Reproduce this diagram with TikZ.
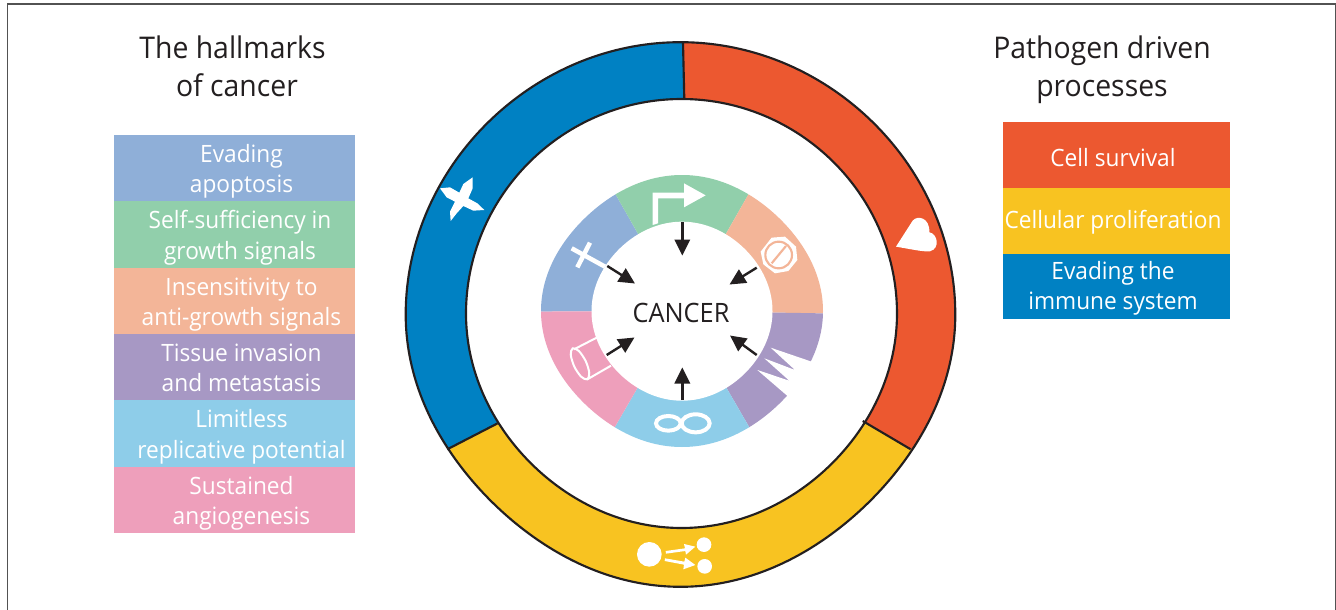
\documentclass[tikz,border=0pt]{standalone}
\usepackage{fontspec}
\setmainfont{Open Sans}[FakeStretch=0.95]
\usetikzlibrary{arrows.meta}
\definecolor{hblue}{HTML}{8FAFD8}
\definecolor{hgreen}{HTML}{91CFAB}
\definecolor{hpeach}{HTML}{F3B598}
\definecolor{hpurple}{HTML}{A798C4}
\definecolor{hsky}{HTML}{8ECDE9}
\definecolor{hpink}{HTML}{EE9FBB}
\definecolor{rblue}{HTML}{0081C3}
\definecolor{rred}{HTML}{EC5830}
\definecolor{ryellow}{HTML}{F8C321}
\definecolor{ink}{HTML}{231F20}
\tikzset{
 legendtext/.style={inner sep=0pt,text=white,align=center,font=\fontsize{17.9}{22.9}\selectfont},
 heading/.style={inner sep=0pt,align=center,text=ink,font=\fontsize{22.4}{28.5}\selectfont},
 ringline/.style={draw=ink,line width=1.6pt},
 pointer/.style={-{Triangle[length=12pt,width=11.5pt]},draw=ink,line width=1.8pt},
 whiteline/.style={draw=white,line cap=butt},
}
% closed outline: centre, x radius, y radius, flattening below, flattening above
\newcommand{\blob}[6]{plot[domain=0:358,samples=180,variable=\t,smooth] ({#1+#3*cos(\t)*(1-(sin(\t)>0?#5:#6)*pow(sin(2*\t),2))},{#2+#4*sin(\t)*(1-(sin(\t)>0?#5:#6)*pow(sin(2*\t),2))}) -- cycle}
\newcommand{\outerpath}{\blob{680.5}{314.5}{274.8}{272.3}{0.028}{0.006}}
\newcommand{\holepath}{\blob{681.5}{313.5}{215.5}{214.5}{0.012}{0.002}}
\newcommand{\innerouter}{\blob{682}{311}{141}{136}{0.03}{0.03}}
\newcommand{\innerhole}{\blob{682}{311.2}{90.5}{89.5}{0.018}{0.018}}
\begin{document}
\begin{tikzpicture}[x=0.75pt,y=-0.75pt]
\useasboundingbox (0,0) rectangle (1336,610);
\fill[white] (0,0) rectangle (1336,610);
\coordinate (bl) at (7.5,610); \coordinate (tl) at (7.5,4); \coordinate (tr) at (1335.5,4); \coordinate (br) at (1335.5,610);
\draw[draw=black!68,line width=1.1pt] (bl) -- (tl) -- (tr) -- (br);
% outer ring
\begin{scope}
\clip \outerpath;
\fill[rblue] (684,0) -- (685,200) -- (600,370.5) -- (340,504.6) -- (340,0) -- cycle;
\fill[rred] (683,0) -- (1000,0) -- (1000,502) -- (780,372) -- (684,200) -- cycle;
\fill[ryellow] (600,370.5) -- (780,372) -- (1000,502) -- (1000,610) -- (340,610) -- (340,504.6) -- cycle;
\end{scope}
\fill[white] \holepath;
\draw[ringline] \holepath;
\coordinate (d1a) at (683,42.5); \coordinate (d1b) at (684.3,99.3);
\coordinate (d2a) at (910.7,449.3); \coordinate (d2b) at (862.7,421);
\coordinate (d3a) at (447.3,449.3); \coordinate (d3b) at (497.7,423.3);
\draw[ringline] (d1a) -- (d1b);
\draw[ringline] (d2a) -- (d2b);
\draw[ringline] (d3a) -- (d3b);
\draw[ringline] \outerpath;
% inner ring
\begin{scope}
\clip \innerouter;
\fill[hblue] (682,311) -- (500,311.7) -- (500,160) -- (596,160) -- cycle;
\fill[hgreen] (682,311) -- (596,160) -- (768,160) -- cycle;
\fill[hpeach] (682,311) -- (768,160) -- (860,160) -- (860,314) -- cycle;
\fill[hpurple] (682,311) -- (860,314) -- (860,460) -- (770,463) -- cycle;
\fill[hsky] (682,311) -- (770,463) -- (594,463) -- cycle;
\fill[hpink] (682,311) -- (594,463) -- (500,463) -- (500,311.7) -- cycle;
\end{scope}
\fill[white] (811.7,361.7) -- (770.7,347.7) -- (795,370) -- (764.3,358.3) -- (789.3,380.7) -- (757.3,370) -- (788.3,396.7) -- (802,410) -- (830,372) -- cycle;
\fill[white] \innerhole;
% central label and arrows
\node[inner sep=0pt,text=ink,font=\fontsize{20}{24}\selectfont] (cancer) at (681,313) {CANCER};
\coordinate (a1s) at (682.3,222.3); \coordinate (a1e) at (682.3,255.5);
\coordinate (a2s) at (756.7,267.7); \coordinate (a2e) at (729.5,284.5);
\coordinate (a3s) at (756.7,355);   \coordinate (a3e) at (730,335.5);
\coordinate (a4s) at (682.3,400);   \coordinate (a4e) at (682.3,367.5);
\coordinate (a5s) at (606.7,355);   \coordinate (a5e) at (634.5,337.5);
\coordinate (a6s) at (607.3,266);   \coordinate (a6e) at (635,283.5);
\foreach \n in {1,...,6} {\draw[pointer] (a\n s) -- (a\n e);}
% icons on the inner ring
\begin{scope}[shift={(530,170)},scale=1/3]
\fill[white] (368,165) -- (368,68) -- (462,68) -- (462,40) -- (527,76) -- (462,112) -- (462,85) -- (384,85) -- (384,160) -- cycle;
\draw[whiteline,line width=3.4pt] (125,235) -- (225,290);
\draw[whiteline,line width=3.4pt] (180,218) -- (142,292);
\fill[white] (725,203) -- (765,200) -- (798,230) -- (802,270) -- (775,303) -- (735,310) -- (700,283) -- (692,245) -- cycle;
\draw[draw=hpeach,line width=1.6pt] (746,255) circle[radius=40];
\draw[draw=hpeach,line width=1.6pt] (725,280) -- (768,228);
\draw[whiteline,line width=1.5pt] plot[smooth cycle] coordinates {(172,628) (177.8,608.7) (167.2,573.4) (146.6,542.9) (128,535) (122.2,554.3) (132.8,589.6) (153.4,620.1)};
\draw[whiteline,line width=1.5pt] (132,538) -- (200,503);
\draw[whiteline,line width=1.5pt] (172,628) -- (243,587);
\draw[whiteline,line width=3pt] (415,760) circle[x radius=37,y radius=22];
\draw[whiteline,line width=3pt] (497,760) circle[x radius=42,y radius=27];
\end{scope}
% icons on the outer ring
\begin{scope}[shift={(400,170)},scale=1/3]
\fill[white] (120,55) -- (150,52) -- (178,68) -- (190,42) -- (218,22) -- (218,55) -- (205,85) -- (232,100) -- (253,120) -- (220,122) -- (190,108) -- (170,130) -- (152,153) -- (150,125) -- (165,95) -- (140,82) -- cycle;
\end{scope}
\begin{scope}[shift={(880,200)},scale=1/3]
\fill[white] (48,140) -- (98,62) .. controls (112,45) and (150,52) .. (148,97) .. controls (172,100) and (182,145) .. (150,154) .. controls (130,156) and (90,147) .. (48,140) -- cycle;
\end{scope}
\begin{scope}[shift={(620,520)},scale=1/3]
\fill[white] (88,103) circle[radius=37];
\fill[white] (252,74) circle[radius=22];
\fill[white] (254,139) circle[radius=22];
\fill[white] (137,93) -- (195,85) -- (192,72) -- (226,80) -- (198,104) -- (196,93) -- (138,101) -- cycle;
\fill[white] (135,115) -- (193,125) -- (196,113) -- (226,135) -- (190,148) -- (192,134) -- (134,123) -- cycle;
\end{scope}
% headings
\node[heading] (hl) at (232.5,66.5) {The hallmarks\\\hspace*{6.75pt}of cancer};
\node[heading] (hr) at (1102,69.5) {Pathogen driven\\processes};
% left legend
\fill[hblue] (114,135) rectangle (355,201.3);
\fill[hgreen] (114,201.3) rectangle (355,267.6);
\fill[hpeach] (114,267.6) rectangle (355,333.9);
\fill[hpurple] (114,333.9) rectangle (355,400.2);
\fill[hsky] (114,400.2) rectangle (355,466.5);
\fill[hpink] (114,466.5) rectangle (355,532.8);
\node[legendtext] (t1) at (241.5,171.5) {Evading\\apoptosis};
\node[legendtext] (t2) at (240,237.5) {Self-sufficiency in\\growth signals};
\node[legendtext] (t3) at (241.5,304.5) {Insensitivity to\\anti-growth signals};
\node[legendtext] (t4) at (241.5,368) {Tissue invasion\\and metastasis};
\node[legendtext] (t5) at (241.5,437) {Limitless\\replicative potential};
\node[legendtext] (t6) at (241.5,503.5) {Sustained\\angiogenesis};
% right legend
\fill[rred] (1003,122) rectangle (1230,188);
\fill[ryellow] (1003,188) rectangle (1230,254);
\fill[rblue] (1003,254) rectangle (1230,319);
\node[legendtext] (r1) at (1113,158) {Cell survival};
\node[legendtext] (r2) at (1113,222) {Cellular proliferation};
\node[legendtext] (r3) at (1113,288.5) {Evading the\\immune system};
\end{tikzpicture}
\end{document}
